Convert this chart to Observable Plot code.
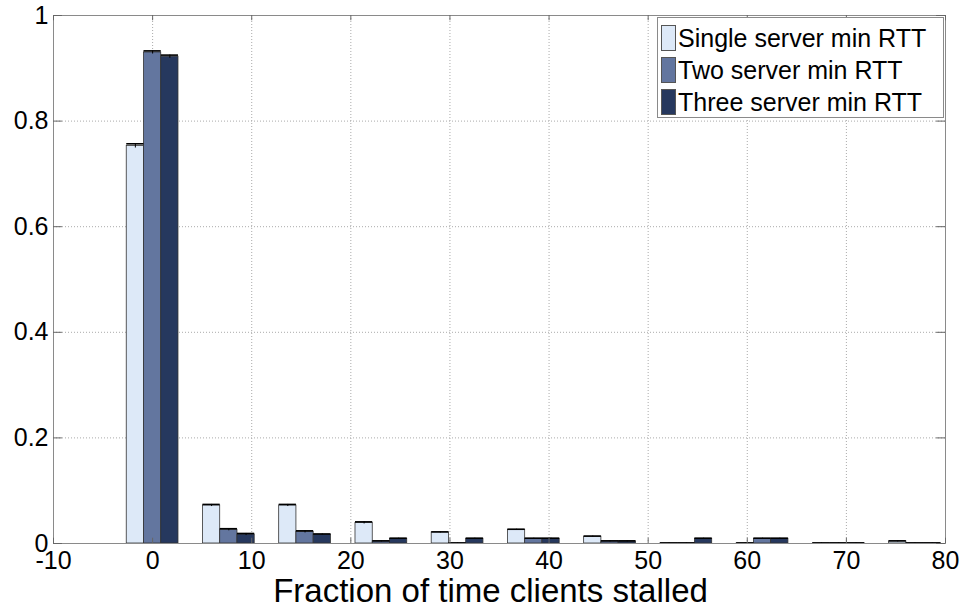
<!DOCTYPE html>
<html>
<head>
<meta charset="utf-8">
<script src="https://cdn.jsdelivr.net/npm/d3@7"></script>
<script src="https://cdn.jsdelivr.net/npm/@observablehq/plot@0.6"></script>
<style>
  html, body { margin: 0; padding: 0; background: #fff; }
  #wrap { position: relative; width: 963px; height: 609px; font-family: "Liberation Sans", Arial, sans-serif; }
  #legend { position: absolute; left: 657px; top: 17px; width: 287px; height: 101px; border: 1px solid #8a8a8a; background: #fff; box-sizing: border-box; padding-top: 4px; }
  .row { display: flex; align-items: center; height: 32px; font-size: 25px; color: #000; white-space: nowrap; }
  .sw { width: 15px; height: 26px; margin-left: 3px; margin-right: 2px; border: 1px solid #555; box-sizing: border-box; flex: none; }
</style>
</head>
<body>
<div id="wrap"></div>
<script>
// ---- data ----
const binCenters = [0, 7.69, 15.38, 23.08, 30.77, 38.46, 46.15, 53.85, 61.54, 69.23, 76.92];
const seriesNames = ["Single server min RTT", "Two server min RTT", "Three server min RTT"];
const singleVals = [0.753, 0.072, 0.072, 0.039, 0.021, 0.026, 0.013, 0.0005, 0.0005, 0.0005, 0.004];
const twoVals    = [0.930, 0.026, 0.022, 0.004, 0.0005, 0.009, 0.004, 0.0005, 0.009, 0.0005, 0.0005];
const threeVals  = [0.922, 0.017, 0.017, 0.009, 0.009, 0.009, 0.004, 0.009, 0.009, 0.0005, 0.0005];
const singleErr  = [0.004, 0.002, 0.002, 0.002, 0.001, 0.001, 0.001, 0.0005, 0.0005, 0.0005, 0.001];
const twoErr     = [0.003, 0.002, 0.002, 0.001, 0.0005, 0.001, 0.001, 0.0005, 0.001, 0.0005, 0.0005];
const threeErr   = [0.003, 0.002, 0.001, 0.001, 0.001, 0.001, 0.001, 0.001, 0.001, 0.0005, 0.0005];
const xTicks = [-10, 0, 10, 20, 30, 40, 50, 60, 70, 80];
const yTicks = [0, 0.2, 0.4, 0.6, 0.8, 1];
const xLabel = "Fraction of time clients stalled";
const colors = ["#dde9f8", "#63769f", "#26385e"];

// ---- build table ----
const barW = 1.74;
const valsBySeries = [singleVals, twoVals, threeVals];
const errBySeries = [singleErr, twoErr, threeErr];
const rows = [];
valsBySeries.forEach((vals, s) => {
  vals.forEach((v, i) => {
    const c = binCenters[i] + (s - 1) * barW;
    rows.push({series: seriesNames[s], x1: c - barW / 2, x2: c + barW / 2, xc: c, y: v, e: errBySeries[s][i]});
  });
});

const fontFamily = "Liberation Sans, Arial, sans-serif";

const chart = Plot.plot({
  width: 963,
  height: 609,
  marginLeft: 53,
  marginRight: 18,
  marginTop: 15,
  marginBottom: 66,
  style: {fontFamily, background: "#fff", color: "#000"},
  x: {domain: [-10, 80], ticks: xTicks},
  y: {domain: [0, 1], ticks: yTicks},
  color: {domain: seriesNames, range: colors},
  marks: [
    Plot.gridX(xTicks, {stroke: "#aaa", strokeOpacity: 1, strokeDasharray: "1,2"}),
    Plot.gridY(yTicks, {stroke: "#aaa", strokeOpacity: 1, strokeDasharray: "1,2"}),
    Plot.rectY(rows, {x1: "x1", x2: "x2", y1: 0, y2: "y", fill: "series", stroke: "#333", strokeWidth: 0.8}),
    Plot.ruleY(rows, {x1: "x1", x2: "x2", y: d => d.y + d.e, stroke: "#000", strokeWidth: 1.6}),
    Plot.ruleX(rows, {x: "xc", y1: d => d.y - d.e, y2: d => d.y + d.e, stroke: "#000", strokeWidth: 1}),
    Plot.ruleY([0], {stroke: "#555"}),
    Plot.frame({stroke: "#8a8a8a"}),
    // inner ticks (MATLAB style)
    Plot.ruleX(xTicks, {y1: 0, y2: 0.01, stroke: "#666"}),
    Plot.ruleX(xTicks, {y1: 0.99, y2: 1, stroke: "#666"}),
    Plot.ruleY(yTicks, {x1: -10, x2: -9.1, stroke: "#666"}),
    Plot.ruleY(yTicks, {x1: 79.1, x2: 80, stroke: "#666"}),
    Plot.axisX(xTicks, {tickSize: 0, tickPadding: 8, fontSize: 25, label: null, tickFormat: d => String(d)}),
    Plot.axisY(yTicks, {tickSize: 0, tickPadding: 5, fontSize: 25, label: null, tickFormat: d => String(d)}),
    Plot.text([xLabel], {frameAnchor: "bottom", lineAnchor: "middle", dy: 48, dx: -9, fontSize: 33, fill: "#000", fontFamily})
  ]
});

const wrap = document.getElementById("wrap");
wrap.appendChild(chart);

// legend overlay
const legend = document.createElement("div");
legend.id = "legend";
seriesNames.forEach((name, i) => {
  const row = document.createElement("div");
  row.className = "row";
  const sw = document.createElement("div");
  sw.className = "sw";
  sw.style.background = colors[i];
  const t = document.createElement("span");
  t.textContent = name;
  row.appendChild(sw);
  row.appendChild(t);
  legend.appendChild(row);
});
wrap.appendChild(legend);
</script>
</body>
</html>
